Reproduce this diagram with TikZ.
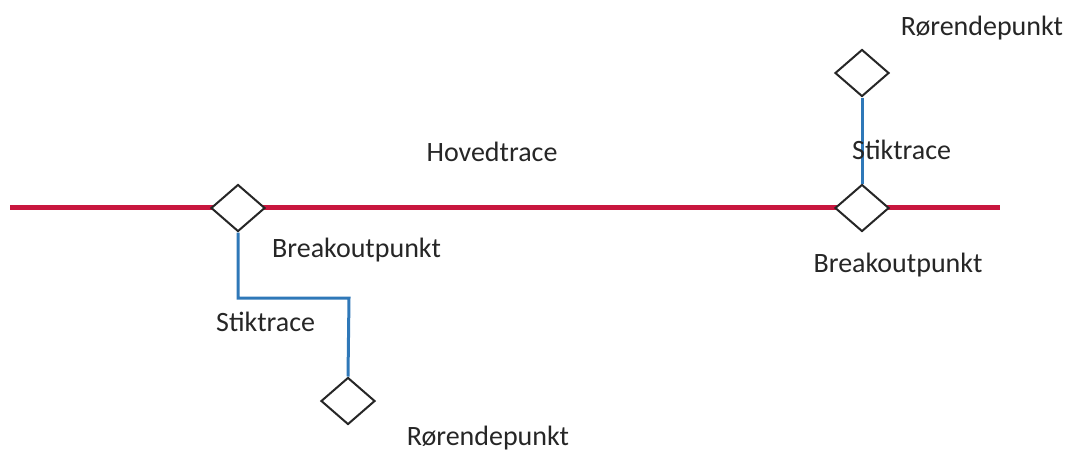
\documentclass[tikz,border=0pt]{standalone}
\usepackage{fontspec}
\setmainfont{Carlito}
\usetikzlibrary{shapes.geometric}
\definecolor{mainred}{HTML}{C8163E}
\definecolor{stikblue}{HTML}{2F78B8}
\definecolor{txt}{HTML}{262626}
\tikzset{
  pt/.style={diamond, draw=black!85, line width=2pt, fill=white, minimum width=54pt, minimum height=47pt, inner sep=0pt},
  hoved/.style={draw=mainred, line width=5pt},
  stik/.style={draw=stikblue, line width=3pt},
  lbl/.style={font=\fontsize{28}{31}\selectfont, text=txt, inner sep=0pt}
}
\begin{document}
\begin{tikzpicture}[x=1pt,y=-1pt]
\useasboundingbox (0,0) rectangle (1074,451);
\coordinate (L) at (10,207);
\coordinate (R) at (1000,207);
\draw[hoved] (L) -- (R);
\coordinate (k1) at (238,298);
\coordinate (k2) at (349,298);
\node[pt] (b1) at (238,208) {};
\node[pt] (b2) at (862,208) {};
\node[pt] (r2) at (862,73) {};
\node[pt] (r1) at (348,401) {};
\draw[stik] (b1.south) -- (k1) -- (k2) -- (r1.north);
\draw[stik] (r2.south) -- (b2.north);
\node[lbl] (t1) at (492,152) {Hovedtrace};
\node[lbl, anchor=west] (t2) at (272,250) {Breakoutpunkt};
\node[lbl, anchor=west] (t3) at (216,322) {Stiktrace};
\node[lbl] (t4) at (488,438) {Rørendepunkt};
\node[lbl, anchor=west] (t5) at (852,150) {Stiktrace};
\node[lbl] (t6) at (898,265) {Breakoutpunkt};
\node[lbl] (t7) at (982,28) {Rørendepunkt};
\end{tikzpicture}
\end{document}
